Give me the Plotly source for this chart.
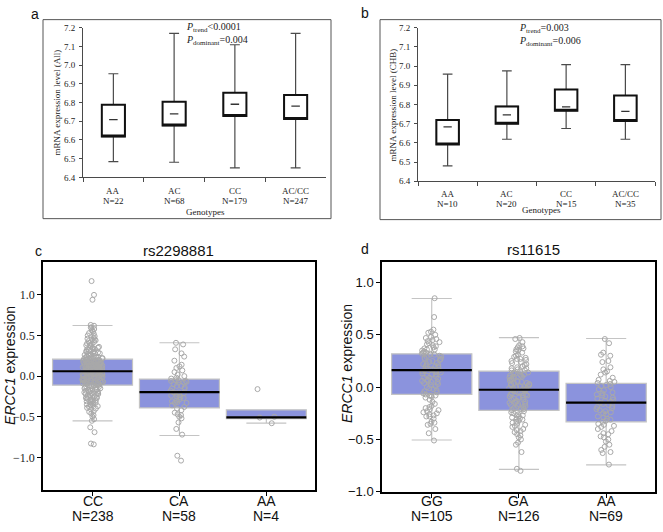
import plotly.graph_objects as go

W, H = 663, 532


def fx(p):
    return p / W


def fy(p):
    return 1 - p / H


SERIF = "Liberation Serif"
SANS = "Liberation Sans"

# ---------------- Panel a data ----------------
a_groups = ["AA", "AC", "CC", "AC/CC"]
a_n = ["N=22", "N=68", "N=179", "N=247"]
a_low = [6.484, 6.481, 6.451, 6.451]
a_q1 = [6.618, 6.677, 6.728, 6.712]
a_med = [6.709, 6.740, 6.791, 6.781]
a_q3 = [6.788, 6.804, 6.853, 6.840]
a_up = [6.954, 7.170, 7.109, 7.170]
a_ptext = ["<i>P</i><sub>trend</sub>&lt;0.0001", "<i>P</i><sub>dominant</sub>=0.004"]

# ---------------- Panel b data ----------------
b_groups = ["AA", "AC", "CC", "AC/CC"]
b_n = ["N=10", "N=20", "N=15", "N=35"]
b_low = [6.480, 6.619, 6.675, 6.619]
b_q1 = [6.592, 6.700, 6.768, 6.714]
b_med = [6.683, 6.746, 6.788, 6.764]
b_q3 = [6.719, 6.790, 6.878, 6.847]
b_up = [6.958, 6.975, 7.008, 7.008]
b_ptext = ["<i>P</i><sub>trend</sub>=0.003", "<i>P</i><sub>dominant</sub>=0.006"]

# ---------------- Panel c data (rs2298881) ----------------
c_groups = ["CC", "CA", "AA"]
c_n = ["N=238", "N=58", "N=4"]
c_low = [-0.551, -0.731, -0.579]
c_q1 = [-0.112, -0.391, -0.523]
c_med = [0.060, -0.196, -0.507]
c_q3 = [0.208, -0.036, -0.415]
c_up = [0.623, 0.411, -0.415]

c_pts_CC = [
    1.17, 1.00, 0.94,
    0.63, 0.62, 0.60, 0.59, 0.58, 0.56, 0.55, 0.53, 0.52, 0.50, 0.49, 0.47, 0.46, 0.45,
    0.44, 0.43, 0.42, 0.41, 0.40, 0.39, 0.38, 0.37, 0.36, 0.35, 0.35, 0.34, 0.33, 0.33,
    0.32, 0.31, 0.31, 0.30, 0.29, 0.29, 0.28, 0.28, 0.27, 0.27, 0.26, 0.26, 0.25, 0.25,
    0.24, 0.24, 0.23, 0.23, 0.23, 0.22, 0.22, 0.22, 0.21, 0.21, 0.21, 0.45, 0.38, 0.30,
    0.20, 0.20, 0.20, 0.19, 0.19, 0.19, 0.18, 0.18, 0.18, 0.17, 0.17, 0.17, 0.16, 0.16,
    0.16, 0.15, 0.15, 0.15, 0.14, 0.14, 0.14, 0.13, 0.13, 0.13, 0.12, 0.12, 0.12, 0.11,
    0.11, 0.11, 0.10, 0.10, 0.10, 0.10, 0.09, 0.09, 0.09, 0.09, 0.08, 0.08, 0.08, 0.08,
    0.07, 0.07, 0.07, 0.07, 0.06, 0.06, 0.06, 0.06, 0.15, 0.13, 0.11, 0.18, 0.12, 0.09,
    0.16, 0.07, 0.08, 0.14,
    0.05, 0.05, 0.05, 0.04, 0.04, 0.04, 0.03, 0.03, 0.03, 0.02, 0.02, 0.02, 0.01, 0.01,
    0.01, 0.00, 0.00, 0.00, -0.01, -0.01, -0.01, -0.02, -0.02, -0.02, -0.03, -0.03, -0.03,
    -0.04, -0.04, -0.04, -0.05, -0.05, -0.05, -0.06, -0.06, -0.06, -0.07, -0.07, -0.07,
    -0.08, -0.08, -0.08, -0.09, -0.09, -0.09, -0.10, -0.10, -0.10, -0.11, -0.11, 0.04,
    0.02, -0.01, -0.04, -0.06, -0.08, 0.00, 0.03, -0.02,
    -0.12, -0.12, -0.13, -0.13, -0.14, -0.14, -0.15, -0.15, -0.16, -0.16, -0.17, -0.17,
    -0.18, -0.18, -0.19, -0.19, -0.20, -0.20, -0.21, -0.21, -0.22, -0.22, -0.23, -0.24,
    -0.24, -0.25, -0.26, -0.27, -0.27, -0.28, -0.29, -0.30, -0.30, -0.31, -0.32, -0.33,
    -0.33, -0.34, -0.35, -0.36, -0.37, -0.38, -0.39, -0.40, -0.41, -0.43, -0.44, -0.46,
    -0.48, -0.50, -0.53, -0.55, -0.22, -0.26, -0.31, -0.35,
    -0.63, -0.69, -0.83, -0.84,
]
c_pts_CA = [
    0.41, 0.39, 0.33, 0.28, 0.24, 0.19, 0.14, 0.12, 0.10, 0.07, 0.05, 0.02, 0.00, -0.02,
    -0.03, -0.05, -0.05, -0.06, -0.06, -0.07, -0.08, -0.08, -0.10, -0.12, -0.12, -0.14,
    -0.15, -0.16, -0.18, -0.20, -0.20, -0.21, -0.22, -0.23, -0.24, -0.25, -0.26, -0.27,
    -0.29, -0.30, -0.31, -0.32, -0.33, -0.33, -0.36, -0.38, -0.40, -0.42, -0.45, -0.47,
    -0.48, -0.50, -0.52, -0.57, -0.65, -0.72, -0.98, -1.04,
]
c_pts_AA = [-0.16, -0.50, -0.51, -0.58]

# ---------------- Panel d data (rs11615) ----------------
d_groups = ["GG", "GA", "AA"]
d_n = ["N=105", "N=126", "N=69"]
d_low = [-0.505, -0.786, -0.743]
d_q1 = [-0.069, -0.222, -0.331]
d_med = [0.162, -0.025, -0.147]
d_q3 = [0.318, 0.153, 0.037]
d_up = [0.847, 0.474, 0.465]

d_pts_GG = [
    0.85, 0.67, 0.55, 0.53, 0.52, 0.50, 0.47, 0.46, 0.45, 0.44, 0.43, 0.42, 0.40, 0.39,
    0.38, 0.37, 0.36, 0.35, 0.34, 0.33, 0.33, 0.32, 0.32, 0.31, 0.31, 0.30, 0.29, 0.28,
    0.27, 0.26, 0.25, 0.24, 0.23, 0.22, 0.21, 0.20, 0.20, 0.19, 0.18, 0.17, 0.17, 0.16,
    0.16, 0.15, 0.14, 0.13, 0.12, 0.11, 0.10, 0.09, 0.08, 0.07, 0.06, 0.05, 0.05, 0.04,
    0.03, 0.02, 0.01, 0.00, -0.02, -0.03, -0.05, -0.06, -0.07, -0.08, -0.08, -0.09, -0.10,
    -0.12, -0.14, -0.16, -0.18, -0.20, -0.21, -0.22, -0.23, -0.24, -0.25, -0.26, -0.27,
    -0.28, -0.30, -0.33, -0.34, -0.35, -0.36, -0.40, -0.44, -0.51, 0.48, 0.41, 0.36, 0.27,
    0.22, 0.12, 0.06, -0.01, -0.08, -0.19, -0.28, 0.29, 0.15, 0.09, -0.04,
]
d_pts_GA = [
    0.47, 0.46, 0.43, 0.40, 0.39, 0.38, 0.37, 0.36, 0.35, 0.34, 0.33, 0.31, 0.30, 0.29,
    0.28, 0.27, 0.27, 0.26, 0.25, 0.24, 0.23, 0.22, 0.21, 0.20, 0.19, 0.18, 0.18, 0.17,
    0.16, 0.16, 0.15,
    0.14, 0.14, 0.13, 0.13, 0.12, 0.12, 0.11, 0.10, 0.10, 0.09, 0.08, 0.08, 0.07, 0.06,
    0.06, 0.05, 0.05, 0.04, 0.03, 0.03, 0.02, 0.02, 0.01, 0.01, 0.00, 0.00, -0.01, -0.01,
    -0.02, -0.02, 0.11, 0.04,
    -0.03, -0.03, -0.04, -0.05, -0.05, -0.06, -0.07, -0.07, -0.08, -0.09, -0.10, -0.10,
    -0.11, -0.12, -0.12, -0.13, -0.14, -0.14, -0.15, -0.16, -0.16, -0.17, -0.18, -0.18,
    -0.19, -0.20, -0.20, -0.21, -0.21, -0.22, -0.08, -0.15,
    -0.23, -0.24, -0.25, -0.26, -0.27, -0.28, -0.29, -0.30, -0.31, -0.32, -0.33, -0.34,
    -0.35, -0.37, -0.38, -0.40, -0.41, -0.43, -0.45, -0.46, -0.48, -0.50, -0.53, -0.55,
    -0.62, -0.78, -0.80, -0.30, -0.36, -0.42, -0.27,
]
d_pts_AA = [
    0.46, 0.42, 0.33, 0.31, 0.30, 0.25, 0.24, 0.19, 0.17, 0.15, 0.14, 0.12, 0.09, 0.07,
    0.06, 0.05, 0.04,
    0.03, 0.02, 0.01, 0.00, -0.02, -0.03, -0.05, -0.06, -0.07, -0.08, -0.09, -0.10, -0.11,
    -0.12, -0.13, -0.14, -0.15,
    -0.16, -0.17, -0.18, -0.19, -0.20, -0.21, -0.22, -0.23, -0.24, -0.25, -0.26, -0.28,
    -0.29, -0.30, -0.31, -0.32, -0.33,
    -0.35, -0.37, -0.38, -0.40, -0.42, -0.44, -0.45, -0.47, -0.48, -0.50, -0.52, -0.55,
    -0.57, -0.60, -0.62, -0.63, -0.74, -0.36,
]

c_points = {"CC": c_pts_CC, "CA": c_pts_CA, "AA": c_pts_AA}
d_points = {"GG": d_pts_GG, "GA": d_pts_GA, "AA": d_pts_AA}

fig = go.Figure()


def add_bw_panel(groups, low, q1, med, q3, up, xa, ya):
    # whiskers (thin grey)
    fig.add_trace(go.Box(
        x=groups, q1=q1, median=q1, q3=q3, lowerfence=low, upperfence=up,
        width=0.38, whiskerwidth=0.43, boxpoints=False,
        line=dict(color="#4a4a4a", width=1.2), fillcolor="white",
        xaxis=xa, yaxis=ya, showlegend=False, hoverinfo="skip"))
    # thick box
    fig.add_trace(go.Box(
        x=groups, q1=q1, median=q1, q3=q3, lowerfence=q1, upperfence=q3,
        width=0.38, whiskerwidth=0, boxpoints=False,
        line=dict(color="#111111", width=2), fillcolor="white",
        xaxis=xa, yaxis=ya, showlegend=False, hoverinfo="skip"))
    # short median dash
    fig.add_trace(go.Box(
        x=groups, q1=med, median=med, q3=med, lowerfence=med, upperfence=med,
        width=0.14, whiskerwidth=0, boxpoints=False,
        line=dict(color="#333333", width=1.3), fillcolor="white",
        xaxis=xa, yaxis=ya, showlegend=False, hoverinfo="skip"))


def add_blue_panel(groups, low, q1, med, q3, up, points, xa, ya):
    fig.add_trace(go.Box(
        x=groups, q1=q1, median=med, q3=q3, lowerfence=low, upperfence=up,
        width=0.92, whiskerwidth=0.5, boxpoints=False,
        line=dict(color="#c4c4c4", width=1.2), fillcolor="#8b93dd",
        xaxis=xa, yaxis=ya, showlegend=False, hoverinfo="skip"))
    for g in groups:
        vals = points[g]
        fig.add_trace(go.Box(
            x=[g] * len(vals), y=vals, width=0.92, boxpoints="all", jitter=0.26,
            pointpos=0, line=dict(color="rgba(0,0,0,0)", width=0),
            fillcolor="rgba(0,0,0,0)",
            marker=dict(symbol="circle-open", size=5, color="#a9a9a9",
                        line=dict(width=1, color="#a9a9a9")),
            xaxis=xa, yaxis=ya, showlegend=False, hoverinfo="skip"))
    fig.add_trace(go.Box(
        x=groups, q1=med, median=med, q3=med, lowerfence=med, upperfence=med,
        width=0.92, whiskerwidth=0, boxpoints=False,
        line=dict(color="#000000", width=2.2), fillcolor="black",
        xaxis=xa, yaxis=ya, showlegend=False, hoverinfo="skip"))


add_bw_panel(a_groups, a_low, a_q1, a_med, a_q3, a_up, "x", "y")
add_bw_panel(b_groups, b_low, b_q1, b_med, b_q3, b_up, "x2", "y2")
add_blue_panel(c_groups, c_low, c_q1, c_med, c_q3, c_up, c_points, "x3", "y3")
add_blue_panel(d_groups, d_low, d_q1, d_med, d_q3, d_up, d_points, "x4", "y4")

bw_x = dict(type="category", range=[-0.5, 3.5], tickson="boundaries", ticks="outside",
            ticklen=4, tickcolor="#4a4a4a", showline=True, linecolor="#4a4a4a", linewidth=1,
            showticklabels=False, showgrid=False, zeroline=False, fixedrange=True)
bw_y = dict(range=[6.4, 7.2], dtick=0.1, tick0=6.4, tickformat=".1f", ticks="outside",
            ticklen=3, tickcolor="#4a4a4a", showline=True, linecolor="#4a4a4a", linewidth=1,
            showgrid=False, zeroline=False, tickfont=dict(family=SERIF, size=9, color="#222"),
            ticklabelstandoff=2)
blue_x = dict(type="category", range=[-0.57, 2.56], ticks="outside", ticklen=4,
              tickcolor="black", showline=True, mirror=True, linecolor="black", linewidth=1.5,
              showticklabels=False, showgrid=False, zeroline=False)
blue_y = dict(ticks="outside", ticklen=4, tickcolor="black", showline=True, mirror=True,
              linecolor="black", linewidth=1.5, showgrid=False, zeroline=False,
              dtick=0.5, tickformat=".1f")

fig.update_layout(
    width=W, height=H, autosize=False,
    margin=dict(l=0, r=0, t=0, b=0),
    paper_bgcolor="white", plot_bgcolor="white",
    boxmode="overlay", showlegend=False,
    xaxis=dict(bw_x, domain=[fx(83), fx(326)], anchor="y", categoryarray=a_groups,
               categoryorder="array"),
    yaxis=dict(bw_y, domain=[fy(176.7), fy(23.3)], anchor="x"),
    xaxis2=dict(bw_x, domain=[fx(418), fx(655)], anchor="y2", categoryarray=b_groups,
                categoryorder="array"),
    yaxis2=dict(bw_y, domain=[fy(180.7), fy(23.3)], anchor="x2"),
    xaxis3=dict(blue_x, domain=[fx(43), fx(315)], anchor="y3", categoryarray=c_groups,
                categoryorder="array"),
    yaxis3=dict(blue_y, domain=[fy(497), fy(263)], anchor="x3", range=[-1.4, 1.41],
                tickfont=dict(family=SERIF, size=12, color="#222")),
    xaxis4=dict(blue_x, domain=[fx(382), fx(655)], anchor="y4", categoryarray=d_groups,
                categoryorder="array"),
    yaxis4=dict(blue_y, domain=[fy(499), fy(263)], anchor="x4", range=[-1.0, 1.2],
                tickfont=dict(family=SANS, size=13, color="#111")),
)

# frames around panels a and b
fig.add_shape(type="rect", xref="paper", yref="paper", x0=fx(43), x1=fx(331),
              y0=fy(219), y1=fy(15), line=dict(color="#555", width=1))
fig.add_shape(type="rect", xref="paper", yref="paper", x0=fx(380), x1=fx(661),
              y0=fy(220), y1=fy(15), line=dict(color="#555", width=1))

ann = []


def A(text, x, y, xref="paper", yref="paper", size=9, family=SERIF, color="#222",
      xanchor="center", yanchor="middle", angle=0):
    ann.append(dict(text=text, x=x, y=y, xref=xref, yref=yref, showarrow=False,
                    font=dict(size=size, family=family, color=color), xanchor=xanchor,
                    yanchor=yanchor, textangle=angle))


# panel letters
A("a", fx(35), fy(9), size=14, family=SANS, color="#111")
A("b", fx(365), fy(8), size=14, family=SANS, color="#111")
A("c", fx(38), fy(252), size=14, family=SANS, color="#111")
A("d", fx(365), fy(250), size=14, family=SANS, color="#111")

# panel a texts
A(a_ptext[0], fx(184), fy(23), size=10, xanchor="left")
A(a_ptext[1], fx(184), fy(36), size=10, xanchor="left")
A("mRNA expression level (All)", fx(57), fy(100), size=9, angle=-90)
for g, n in zip(a_groups, a_n):
    A(g, g, fy(191), xref="x", size=9)
    A(n, g, fy(200.5), xref="x", size=9)
A("Genotypes", fx(205), fy(212), size=9)

# panel b texts
A(b_ptext[0], fx(517), fy(24), size=10, xanchor="left")
A(b_ptext[1], fx(517), fy(37), size=10, xanchor="left")
A("mRNA expression level (CHB)", fx(393), fy(103), size=9, angle=-90)
for g, n in zip(b_groups, b_n):
    A(g, g, fy(194), xref="x2", size=9)
    A(n, g, fy(204), xref="x2", size=9)
A("Genotypes", fx(541), fy(210), size=9)

# panel c texts
A("rs2298881", fx(178), fy(252), size=15, family=SANS, color="#111")
A("<i>ERCC1</i> expression", fx(10), fy(370), size=14, family=SANS, color="#111", angle=-90)
for g, n in zip(c_groups, c_n):
    A(g, g, fy(508.5), xref="x3", size=14, family=SANS, color="#111")
    A(n, g, fy(524), xref="x3", size=14, family=SANS, color="#111")

# panel d texts
A("rs11615", fx(533), fy(251), size=15, family=SANS, color="#111")
A("<i>ERCC1</i> expression", fx(347), fy(368), size=14, family=SANS, color="#111", angle=-90)
for g, n in zip(d_groups, d_n):
    A(g, g, fy(508.5), xref="x4", size=14, family=SANS, color="#111")
    A(n, g, fy(524), xref="x4", size=14, family=SANS, color="#111")

fig.update_layout(annotations=ann)
fig.write_html("out.html", config={"displayModeBar": False},
               post_script="document.body.style.margin='0';document.body.style.padding='0';")
